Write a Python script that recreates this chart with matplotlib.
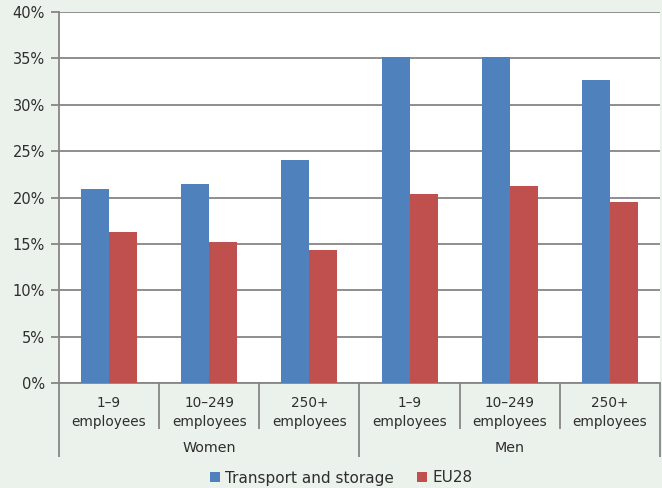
import matplotlib
matplotlib.use("Agg")
import matplotlib.pyplot as plt
import matplotlib.transforms as mtransforms
import numpy as np

groups = ["Women", "Men"]
sizes = ["1\u20139\nemployees", "10\u2013249\nemployees", "250+\nemployees"]
transport = [20.9, 21.5, 24.0, 35.1, 35.1, 32.7]
eu28 = [16.3, 15.2, 14.3, 20.4, 21.2, 19.5]
series_names = ["Transport and storage", "EU28"]
yticks = [0, 5, 10, 15, 20, 25, 30, 35, 40]

blue = "#4F81BD"
red = "#C0504D"
grid_c = "#868686"
bg = "#EBF1EB"
txt = "#2E2E2E"

plt.rcParams["font.family"] = ["DejaVu Sans"]

fig = plt.figure(figsize=(6.62, 4.88), dpi=100, facecolor=bg)
W, H = 662, 488
ax = fig.add_axes([59 / W, (H - 383) / H, 601 / W, 371 / H])
ax.set_facecolor("white")

n = len(transport)
x = np.arange(n)
bw = 0.28
ax.bar(x - bw / 2, transport, bw, color=blue, label=series_names[0], zorder=3)
ax.bar(x + bw / 2, eu28, bw, color=red, label=series_names[1], zorder=3)

ax.set_xlim(-0.5, n - 0.5)
ax.set_ylim(0, 40)
ax.set_yticks(yticks)
ax.set_yticklabels([f"{v}%" for v in yticks], fontsize=10.5, color=txt)
ax.yaxis.grid(True, color=grid_c, linewidth=1.3, zorder=0)
ax.set_axisbelow(True)
ax.tick_params(axis="y", length=6, width=1.3, color=grid_c, pad=4)
ax.set_xticks([])

for s in ["top", "right"]:
    ax.spines[s].set_visible(False)
for s in ["left", "bottom"]:
    ax.spines[s].set_color(grid_c)
    ax.spines[s].set_linewidth(1.3)

trans = mtransforms.blended_transform_factory(ax.transData, ax.transAxes)

# category labels and separators
for i in range(n):
    ax.text(x[i], -0.079, sizes[i % 3], transform=trans, ha="center", va="center",
            fontsize=9.8, color=txt, linespacing=1.45)
for b in np.arange(-0.5, n, 1.0):
    is_group = (b + 0.5) % 3 == 0
    y_end = -0.2 if is_group else -0.125
    ax.plot([b, b], [0, y_end], transform=trans, color=grid_c, lw=1.3,
            clip_on=False, solid_capstyle="butt")
for g, name in enumerate(groups):
    ax.text(3 * g + 1, -0.175, name, transform=trans, ha="center", va="center",
            fontsize=10.3, color=txt)

leg = fig.legend(loc="center", bbox_to_anchor=(341 / W, (H - 478) / H), ncol=2,
                 frameon=False, fontsize=11, handlelength=0.65, handleheight=0.65,
                 handletextpad=0.35, columnspacing=1.5, labelcolor=txt,
                 borderpad=0, borderaxespad=0)

fig.savefig("out.png", dpi=100, facecolor=bg)
